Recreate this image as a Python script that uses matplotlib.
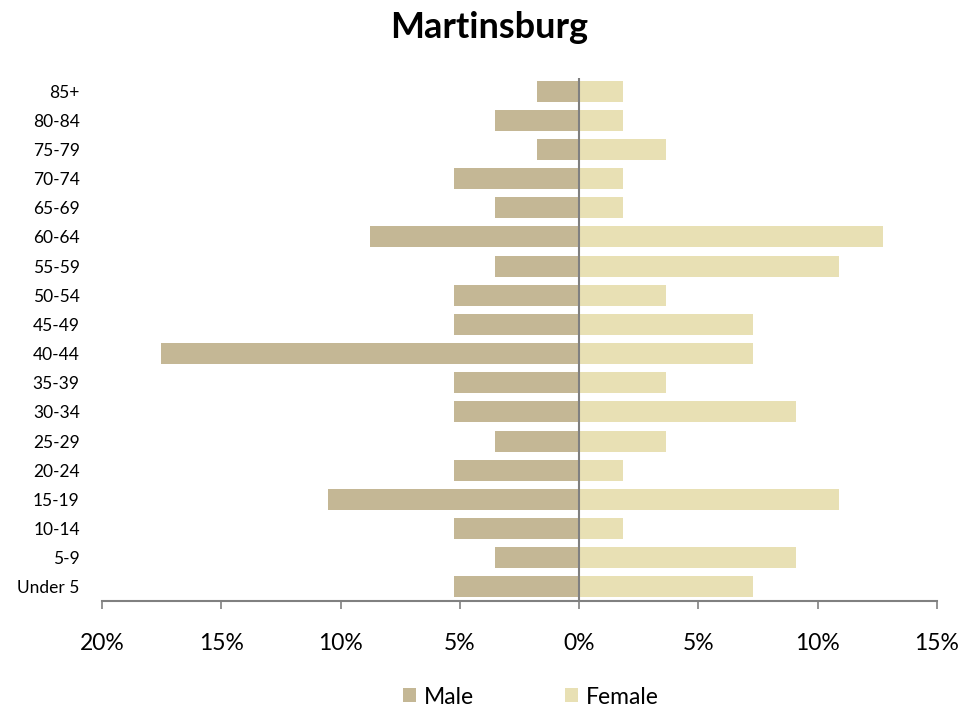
import matplotlib
matplotlib.use("Agg")
import matplotlib.pyplot as plt
from matplotlib.ticker import FuncFormatter

plt.rcParams['font.family'] = ['Lato', 'DejaVu Sans']

categories = ["Under 5", "5-9", "10-14", "15-19", "20-24", "25-29", "30-34", "35-39",
              "40-44", "45-49", "50-54", "55-59", "60-64", "65-69", "70-74", "75-79",
              "80-84", "85+"]
male = [5.26, 3.51, 5.26, 10.53, 5.26, 3.51, 5.26, 5.26, 17.54, 5.26, 5.26, 3.51,
        8.77, 3.51, 5.26, 1.75, 3.51, 1.75]
female = [7.27, 9.09, 1.82, 10.91, 1.82, 3.64, 9.09, 3.64, 7.27, 7.27, 3.64, 10.91,
          12.73, 1.82, 1.82, 3.64, 1.82, 1.82]
xticks = [-20, -15, -10, -5, 0, 5, 10, 15]

male_color = "#C4B795"
female_color = "#E8E0B4"

fig = plt.figure(figsize=(9.79, 7.13), dpi=100)
ax = fig.add_axes([102/979, 1-601/713, (937-102)/979, (601-78)/713])

y = range(len(categories))
ax.barh(y, [-v for v in male], height=0.72, color=male_color, label="Male")
ax.barh(y, female, height=0.72, color=female_color, label="Female")

ax.set_xlim(-20, 15)
ax.set_ylim(-0.48, 17.45)
ax.set_xticks(xticks)
ax.xaxis.set_major_formatter(FuncFormatter(lambda v, p: f"{abs(int(round(v)))}%"))
ax.set_yticks(list(y))
ax.set_yticklabels(categories)

ax.axvline(0, color="#808080", lw=1.5, zorder=3)
for s in ["top", "right", "left"]:
    ax.spines[s].set_visible(False)
ax.spines["bottom"].set_color("#808080")
ax.spines["bottom"].set_linewidth(1.5)
ax.tick_params(axis="x", direction="out", length=6, width=1.2, color="#808080",
               labelsize=16.5, pad=17)
ax.tick_params(axis="y", length=0, labelsize=12.5, pad=16)

fig.suptitle("Martinsburg", fontsize=26, fontweight="bold", y=1-28/713, va="center")

h, l = ax.get_legend_handles_labels()
fig.legend(h, l, loc="center", bbox_to_anchor=(531/979, 1-697/713), ncol=2, frameon=False,
           fontsize=16.5, handlelength=0.55, handleheight=0.55, columnspacing=4.0,
           handletextpad=0.35)

fig.savefig("out.png", dpi=100)
